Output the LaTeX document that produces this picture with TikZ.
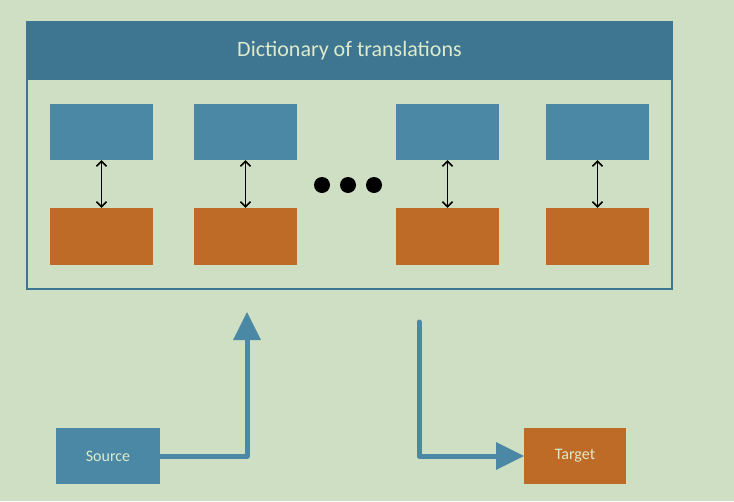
\documentclass[tikz,border=0pt]{standalone}
\usepackage{fontspec}
\setmainfont{Carlito}
\usetikzlibrary{arrows.meta}
\definecolor{bg}{HTML}{CEDFC3}
\definecolor{hdr}{HTML}{3E7590}
\definecolor{bl}{HTML}{4A88A5}
\definecolor{org}{HTML}{BD6B27}
\definecolor{txt}{HTML}{DDEACB}
\tikzset{
 bbox/.style={fill=bl,draw=none,minimum width=103pt,minimum height=56pt,inner sep=0},
 obox/.style={fill=org,draw=none,minimum width=103pt,minimum height=57pt,inner sep=0},
 pair/.style={{Straight Barb[length=5pt,width=10pt]}-{Straight Barb[length=5pt,width=10pt]},line width=1.6pt,black},
 flow/.style={draw=bl,line width=5pt,line join=round,line cap=round},
}
\begin{document}
\begin{tikzpicture}[x=1pt,y=-1pt]
\fill[bg] (0,0) rectangle (734,501);
\useasboundingbox (0,0) rectangle (734,501);
\draw[hdr,line width=1.2pt] (27,22) rectangle (672,289);
\node[fill=hdr,minimum width=645pt,minimum height=58pt,inner sep=0,text=txt,font=\fontsize{22}{26}\selectfont] (title) at (349.5,51) {Dictionary of translations};
\foreach \i/\x in {1/101.5,2/245.5,3/447.5,4/597.5}{
 \node[bbox] (b\i) at (\x,132) {};
 \node[obox] (o\i) at (\x,236.5) {};
 \draw[pair] (b\i.south) -- (o\i.north);
}
\foreach \x in {322,348,374} \fill[black] (\x,185) circle (8);
\node[fill=bl,minimum width=104pt,minimum height=56pt,inner sep=0,text=txt,font=\fontsize{16}{19}\selectfont] (src) at (108,456) {Source};
\node[fill=org,minimum width=102pt,minimum height=56pt,inner sep=0,text=txt,font=\fontsize{16}{19}\selectfont] (tgt) at (575,456) {Target};
\coordinate (up) at (247,312);
\coordinate (down) at (419,322);
\draw[flow,line cap=butt] (src.east) -| (247,338);
\fill[bl] (up) -- (261,340) -- (233,340) -- cycle;
\draw[flow] (down) |- (496,456);
\fill[bl] (tgt.west) -- (496,442) -- (496,470) -- cycle;
\end{tikzpicture}
\end{document}
